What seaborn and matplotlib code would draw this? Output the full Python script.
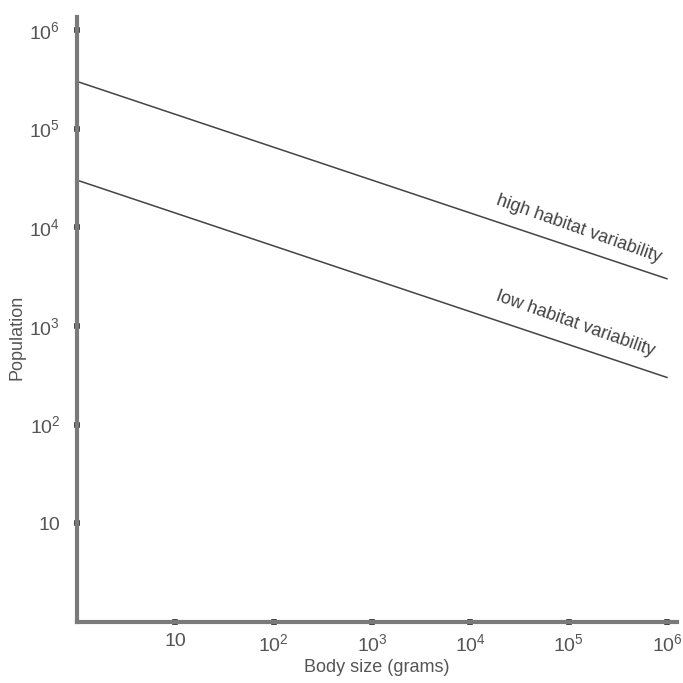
import numpy as np
import pandas as pd
import seaborn as sns
import matplotlib.pyplot as plt

# body size (grams) and population at the two ends of each line
body_size = [1, 1e6]
pop_high = [3e5, 3e3]
pop_low = [3e4, 3e2]
series = ['high habitat variability', 'low habitat variability']

x_ticks = [10, 1e2, 1e3, 1e4, 1e5, 1e6]
x_labels = ['10', '$\\mathregular{10^2}$', '$\\mathregular{10^3}$', '$\\mathregular{10^4}$',
            '$\\mathregular{10^5}$', '$\\mathregular{10^6}$']
y_ticks = [10, 1e2, 1e3, 1e4, 1e5, 1e6]
y_labels = x_labels

df = pd.DataFrame({
    'size': body_size * 2,
    'pop': pop_high + pop_low,
    'series': [series[0]] * 2 + [series[1]] * 2,
})

sns.set_style('white')
plt.rcParams['font.family'] = ['Liberation Sans', 'DejaVu Sans']
plt.rcParams['mathtext.fontset'] = 'custom'
plt.rcParams['mathtext.rm'] = 'Liberation Sans'

fig = plt.figure(figsize=(6.83, 6.83), dpi=100)
ax = fig.add_axes([77 / 683, 61 / 683, 600 / 683, 605 / 683])

sns.lineplot(data=df, x='size', y='pop', hue='series', palette=['#444444', '#444444'],
             linewidth=1.1, legend=False, ax=ax)
ax.set_xscale('log')
ax.set_yscale('log')
ax.set_xlim(1, 10 ** 6.1)
ax.set_ylim(1, 10 ** 6.13)

ax.set_xticks(x_ticks)
ax.set_xticklabels(x_labels)
ax.set_yticks(y_ticks)
ax.set_yticklabels(y_labels)
ax.minorticks_off()
ax.tick_params(axis='both', bottom=True, left=True, direction='inout', length=4, width=4,
               color='#444444', labelsize=14, labelcolor='#555555')
ax.tick_params(axis='y', pad=10)
ax.tick_params(axis='x', pad=6)

for side in ['top', 'right']:
    ax.spines[side].set_visible(False)
for side in ['left', 'bottom']:
    ax.spines[side].set_color('#7a7a7a')
    ax.spines[side].set_linewidth(3)

ax.set_xlabel('Body size (grams)', fontsize=13, color='#555555', labelpad=3)
ax.set_ylabel('Population', fontsize=13, color='#555555')
ax.yaxis.set_label_coords(-0.085, 0.47)

ax.text(1.25e5, 9.6e3, series[0], rotation=-19.5, ha='center', va='center',
        fontsize=13, color='#444444', rotation_mode='anchor')
ax.text(1.17e5, 1.05e3, series[1], rotation=-19.5, ha='center', va='center',
        fontsize=13, color='#444444', rotation_mode='anchor')

fig.savefig('out.png', dpi=100)
